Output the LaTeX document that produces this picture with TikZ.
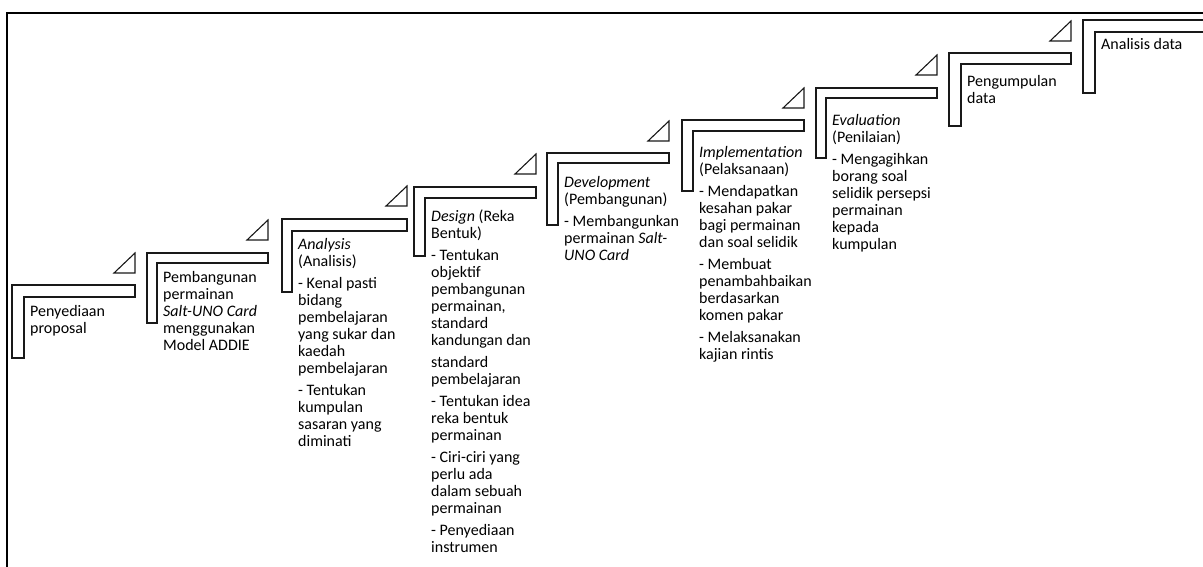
\documentclass[tikz,border=0pt]{standalone}
\usepackage{fontspec}
\setmainfont{Carlito}
\begin{document}
\begin{tikzpicture}[x=1pt,y=-1pt,
  lshape/.style={draw=black!90,line width=1.1pt,line join=miter},
  tri/.style={draw=black!90,line width=1.1pt},
  frame/.style={draw=black,line width=2pt},
  steptext/.style={anchor=north west,inner sep=0pt,align=left,font=\fontsize{16}{17}\selectfont}]
\useasboundingbox[fill=white] (0,0) rectangle (1203,567);
\newcommand\stepL[6]{\draw[lshape] (#1,#2) -- (#3,#2) -- (#3,#4) -- (#5,#4) -- (#5,#6) -- (#1,#6) -- cycle;}
\newcommand\triA[2]{\draw[tri] (#1,#2) -- ++(-21,0) -- ++(21,-20) -- cycle;}
\newcommand\fs{\rule{0pt}{12pt}}
% frame
\draw[frame] (7,570) -- (7,13) -- (1210,13);
% L shapes
\stepL{12}{285}{135}{297}{24}{358}
\stepL{147}{253}{268}{263}{157}{323}
\stepL{282}{219}{407}{231}{292}{292}
\stepL{414}{187}{536}{198}{425}{256}
\stepL{547}{153}{669}{163}{558}{225}
\stepL{682}{120}{804}{131}{693}{191}
\stepL{816}{88}{937}{98}{826}{158}
\stepL{949}{53}{1071}{64}{961}{126}
\stepL{1083}{20}{1215}{32}{1095}{93}
% triangles
\triA{135}{273}
\triA{268}{240}
\triA{407}{206}
\triA{536}{174}
\triA{669}{141}
\triA{804}{108}
\triA{937}{75}
\triA{1071}{41}
% texts
\node[steptext] (t1) at (30,316-12) {\fs Penyediaan\\proposal};
\node[steptext] (t2) at (163,282-12) {\fs Pembangunan\\permainan\\\textit{Salt-UNO Card}\\menggunakan\\Model ADDIE};
\node[steptext] (t3) at (298,249-12) {\fs\textit{Analysis}\\(Analisis)\\[5pt]- Kenal pasti\\bidang\\pembelajaran\\yang sukar dan\\kaedah\\pembelajaran\\[5pt]- Tentukan\\kumpulan\\sasaran yang\\diminati};
\node[steptext] (t4) at (431,221-12) {\fs\textit{Design} (Reka\\Bentuk)\\[5pt]- Tentukan\\objektif\\pembangunan\\permainan,\\standard\\kandungan dan\\[5pt]standard\\pembelajaran\\[5pt]- Tentukan idea\\reka bentuk\\permainan\\[5pt]- Ciri-ciri yang\\perlu ada\\dalam sebuah\\permainan\\[5pt]- Penyediaan\\instrumen};
\node[steptext] (t5) at (564,187-12) {\fs\textit{Development}\\(Pembangunan)\\[5pt]- Membangunkan\\permainan \textit{Salt-}\\\textit{UNO Card}};
\node[steptext] (t6) at (699,157-12) {\fs\textit{Implementation}\\(Pelaksanaan)\\[5pt]- Mendapatkan\\kesahan pakar\\bagi permainan\\dan soal selidik\\[5pt]- Membuat\\penambahbaikan\\berdasarkan\\komen pakar\\[5pt]- Melaksanakan\\kajian rintis};
\node[steptext] (t7) at (832,125-12) {\fs\textit{Evaluation}\\(Penilaian)\\[5pt]- Mengagihkan\\borang soal\\selidik persepsi\\permainan\\kepada\\kumpulan};
\node[steptext] (t8) at (967,86-12) {\fs Pengumpulan\\data};
\node[steptext] (t9) at (1101,49-12) {\fs Analisis data};
\end{tikzpicture}
\end{document}
